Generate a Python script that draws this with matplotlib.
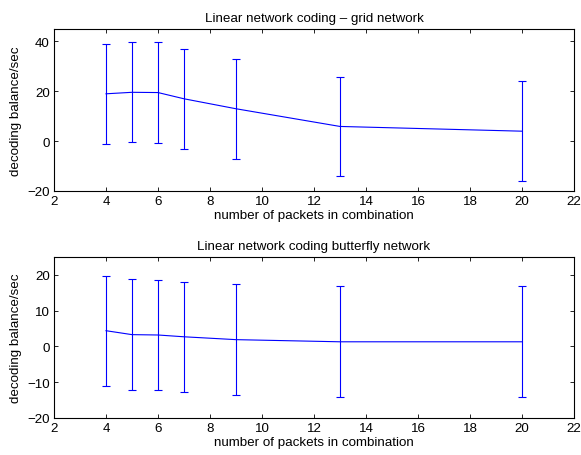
import numpy as np
import matplotlib.pyplot as plt

plt.rcParams['font.family'] = ['Liberation Sans', 'DejaVu Sans']

# ---------------* data *-------------------------------------------
packets = [4, 5, 6, 7, 9, 13, 20]

grid_mean = [19.0, 19.6, 19.5, 17.0, 13.0, 5.9, 4.0]
grid_err = [20.1, 20.1, 20.1, 20.1, 20.1, 20.0, 20.1]

bfly_mean = [4.4, 3.3, 3.2, 2.7, 1.9, 1.3, 1.3]
bfly_err = [15.4, 15.5, 15.4, 15.4, 15.5, 15.5, 15.5]

titles = ["Linear network coding \u2013 grid network",
          "Linear network coding butterfly network"]

# ---------------* figure *----------------------
fig = plt.figure(figsize=(5.81, 4.56), dpi=100)
W, H = 581.0, 456.0
ax1 = fig.add_axes([54 / W, 1 - 192 / H, 520 / W, 162 / H])
ax2 = fig.add_axes([54 / W, 1 - 419 / H, 520 / W, 161 / H])

fs = 9.6


def panel(ax, mean, err, title, ylim, yticks):
    ax.errorbar(packets, mean, yerr=err, color='#0000ff', lw=0.8,
                elinewidth=0.8, capsize=3.2, capthick=0.8)
    ax.set_xlim(2, 22)
    ax.set_xticks(range(2, 23, 2))
    ax.set_ylim(*ylim)
    ax.set_yticks(yticks)
    ax.set_yticklabels([str(t).replace('-', '\u2212') for t in yticks])
    ax.tick_params(direction='in', top=True, right=True, labelsize=fs,
                   length=3, width=0.6, pad=3)
    for s in ax.spines.values():
        s.set_linewidth(0.8)
    ax.set_title(title, fontsize=fs, pad=6)
    ax.set_xlabel("number of packets in combination", fontsize=fs, labelpad=1)
    ax.set_ylabel("decoding balance/sec", fontsize=fs, labelpad=4)


panel(ax1, grid_mean, grid_err, titles[0], (-20, 45), [-20, 0, 20, 40])
panel(ax2, bfly_mean, bfly_err, titles[1], (-20, 25), [-20, -10, 0, 10, 20])

fig.savefig("out.png", dpi=100)
